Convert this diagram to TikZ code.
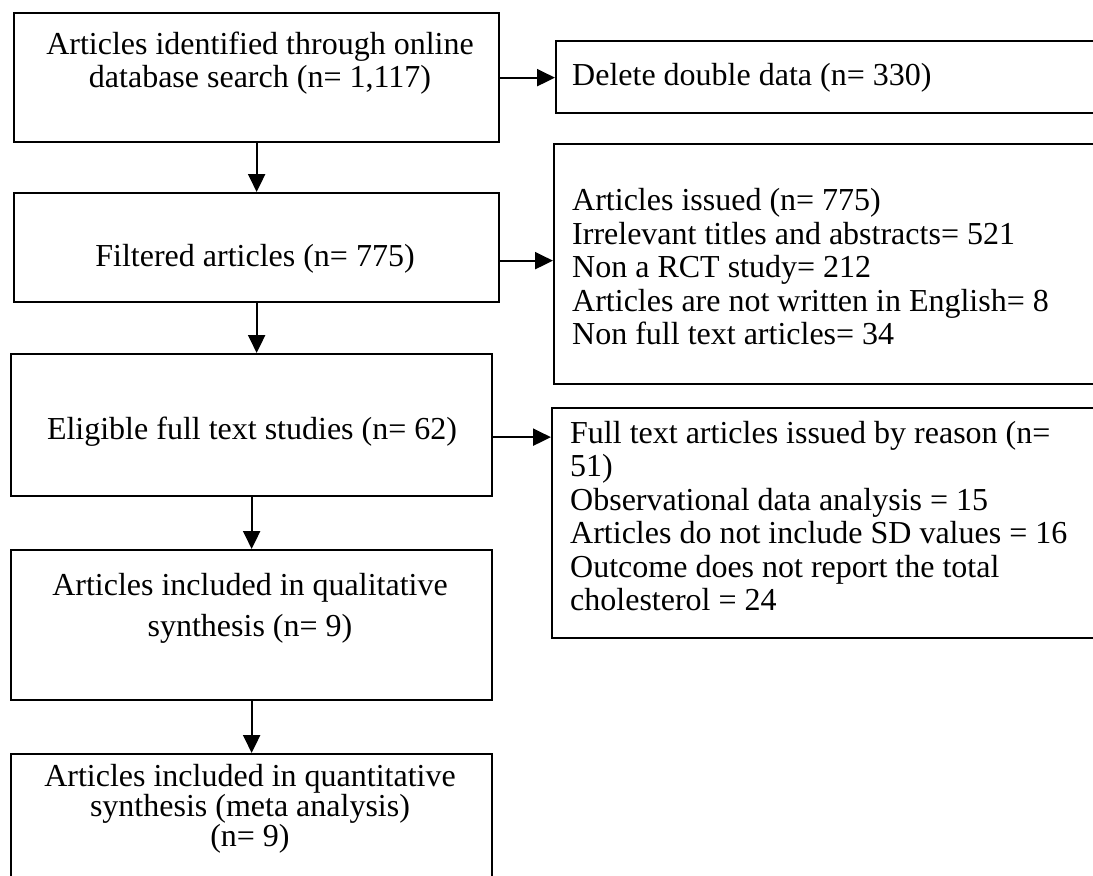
\documentclass[tikz,border=0pt]{standalone}
\usepackage{fontspec}
\setmainfont{Liberation Serif}
\usetikzlibrary{arrows.meta,positioning}
\tikzset{
  flowbox/.style={draw,line width=2.3pt,inner sep=0pt,anchor=north west},
  flowtext/.style={font=\fontsize{32}{33}\selectfont,align=center,inner sep=0pt},
  notetext/.style={font=\fontsize{32}{33.5}\selectfont,align=left,inner sep=0pt,anchor=west},
  flowarrow/.style={-{Triangle[length=18pt,width=17pt]},line width=2.2pt},
}

\begin{document}
\begin{tikzpicture}[x=1pt,y=-1pt]
  \useasboundingbox (0,0) rectangle (1093,876);
  \fill[white] (0,0) rectangle (1093,876);
  \clip (0,0) rectangle (1093,876);
  % main column
  \node[flowbox,minimum width=485pt,minimum height=129pt] (ident) at (13,12) {};
  \node[flowbox,minimum width=485pt,minimum height=109pt] (filtered) at (13,192) {};
  \node[flowbox,minimum width=481pt,minimum height=142pt] (eligible) at (10,353) {};
  \node[flowbox,minimum width=481pt,minimum height=150pt] (qual) at (10,549) {};
  \node[flowbox,minimum width=481pt,minimum height=140pt] (quant) at (10,753) {};
  \node[flowtext] (identtxt) at (260,63)
    {Articles identified through online\\database search (n= 1,117)};
  \node[flowtext] (filteredtxt) at (255,259) {Filtered articles (n= 775)};
  \node[flowtext] (eligibletxt) at (252,432) {Eligible full text studies (n= 62)};
  \node[flowtext,font=\fontsize{32}{41}\selectfont] (qualtxt) at (250,608)
    {Articles included in qualitative\\synthesis (n= 9)};
  \node[flowtext,font=\fontsize{32}{29}\selectfont] (quanttxt) at (250,809)
    {Articles included in quantitative\\synthesis (meta analysis)\\(n= 9)};
  % excluded column
  \node[flowbox,minimum width=560pt,minimum height=72pt] (dup) at (555,40) {};
  \node[flowbox,minimum width=560pt,minimum height=240pt] (issued) at (553,143) {};
  \node[flowbox,minimum width=560pt,minimum height=230pt] (fulltext) at (551,407) {};
  \node[notetext] (duptxt) at (572,78) {Delete double data (n= 330)};
  \node[notetext] (issuedtxt) at (572,267)
    {Articles issued (n= 775)\\Irrelevant titles and abstracts= 521\\Non a RCT study= 212\\
     Articles are not written in English= 8\\Non full text articles= 34};
  \node[notetext] (fulltexttxt) at (570,516)
    {Full text articles issued by reason (n=\\51)\\Observational data analysis = 15\\
     Articles do not include SD values = 16\\Outcome does not report the total\\cholesterol = 24};
  % arrows
  \draw[flowarrow] (ident.south) -- (filtered.north);
  \draw[flowarrow] (filtered.south) -- (filtered.south |- eligible.north);
  \draw[flowarrow] (eligible.south) -- (qual.north);
  \draw[flowarrow] (qual.south) -- (quant.north);
  \draw[flowarrow] (ident.east) -- (ident.east -| dup.west);
  \draw[flowarrow] ([yshift=-13pt]filtered.east) -- ([yshift=-13pt]filtered.east -| issued.west);
  \draw[flowarrow] ([yshift=-12pt]eligible.east) -- ([yshift=-12pt]eligible.east -| fulltext.west);
\end{tikzpicture}
\end{document}
